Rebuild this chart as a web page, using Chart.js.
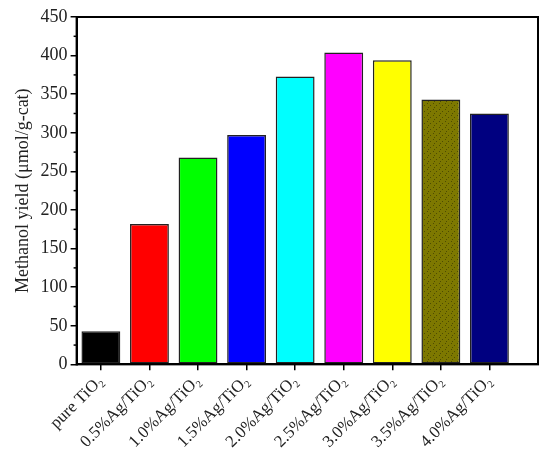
<!DOCTYPE html>
<html>
<head>
<meta charset="utf-8">
<script src="https://cdn.jsdelivr.net/npm/chart.js@4"></script>
<style>
    body { margin: 0; background: #fff; }
    #wrap { width: 550px; height: 455px; }
</style>
</head>
<body>
<div id="wrap"><canvas id="yieldChart"></canvas></div>
<script>
const categories = ['pure TiO₂', '0.5%Ag/TiO₂', '1.0%Ag/TiO₂', '1.5%Ag/TiO₂', '2.0%Ag/TiO₂',
    '2.5%Ag/TiO₂', '3.0%Ag/TiO₂', '3.5%Ag/TiO₂', '4.0%Ag/TiO₂'];
const yields = [43, 182, 268, 297, 373, 404, 394, 343, 325];
const barColors = ['#000000', '#ff0000', '#00ff00', '#0000ff', '#00ffff', '#ff00ff', '#ffff00', '#7d7800', '#000080'];
const yTitle = 'Methanol yield (μmol/g-cat)';

// stippled fill for the olive bar
function dotPattern(base) {
    const c = document.createElement('canvas');
    c.width = 6; c.height = 6;
    const g = c.getContext('2d');
    g.fillStyle = base;
    g.fillRect(0, 0, 6, 6);
    g.fillStyle = 'rgba(40,40,0,0.55)';
    g.fillRect(1, 1, 1, 1);
    g.fillRect(4, 3, 1, 1);
    g.fillRect(2, 5, 1, 1);
    return g.createPattern(c, 'repeat');
}
const fills = barColors.map((c, i) => i === 7 ? dotPattern(c) : c);

// box frame + short minor ticks on y axis
const framePlugin = {
    id: 'frame',
    afterDraw(chart) {
        const { ctx, chartArea: a, scales } = chart;
        ctx.save();
        ctx.strokeStyle = '#000';
        ctx.lineWidth = 2;
        ctx.strokeRect(a.left, a.top, a.right - a.left, a.bottom - a.top);
        ctx.lineWidth = 1.5;
        for (let v = 25; v < 450; v += 50) {
            const y = scales.y.getPixelForValue(v);
            ctx.beginPath();
            ctx.moveTo(a.left - 3, y);
            ctx.lineTo(a.left, y);
            ctx.stroke();
        }
        ctx.restore();
    }
};

const serif = 'Liberation Serif';

new Chart(document.getElementById('yieldChart').getContext('2d'), {
    type: 'bar',
    data: {
        datasets: [{
            data: yields.map((v, i) => ({ x: i, y: v })),
            backgroundColor: fills,
            borderColor: '#222',
            borderWidth: 1.5,
            borderSkipped: false,
            barPercentage: 1.0,
            categoryPercentage: 0.8
        }]
    },
    options: {
        responsive: true,
        maintainAspectRatio: false,
        animation: false,
        layout: { padding: { top: 17, right: 12, left: 12, bottom: 2 } },
        plugins: {
            legend: { display: false },
            tooltip: { enabled: false }
        },
        scales: {
            x: {
                type: 'linear',
                offset: false,
                min: -0.5,
                max: 9,
                afterBuildTicks: scale => {
                    scale.ticks = categories.map((c, i) => ({ value: i }));
                },
                grid: {
                    offset: false,
                    drawOnChartArea: false,
                    tickLength: 6,
                    lineWidth: 1.5,
                    color: '#000'
                },
                border: { color: '#000', width: 2 },
                ticks: {
                    color: '#222',
                    font: { family: serif, size: 17 },
                    minRotation: 45,
                    maxRotation: 45,
                    autoSkip: false,
                    padding: 1,
                    callback: v => categories[v]
                }
            },
            y: {
                min: 0,
                max: 450,
                grid: {
                    drawOnChartArea: false,
                    tickLength: 6,
                    lineWidth: 1.5,
                    color: '#000'
                },
                border: { color: '#000', width: 2 },
                ticks: {
                    stepSize: 50,
                    color: '#222',
                    font: { family: serif, size: 18 },
                    padding: 3
                },
                title: {
                    display: true,
                    text: yTitle,
                    color: '#222',
                    font: { family: serif, size: 18 },
                    padding: { top: 0, bottom: 4 }
                }
            }
        }
    },
    plugins: [framePlugin]
});
</script>
</body>
</html>
